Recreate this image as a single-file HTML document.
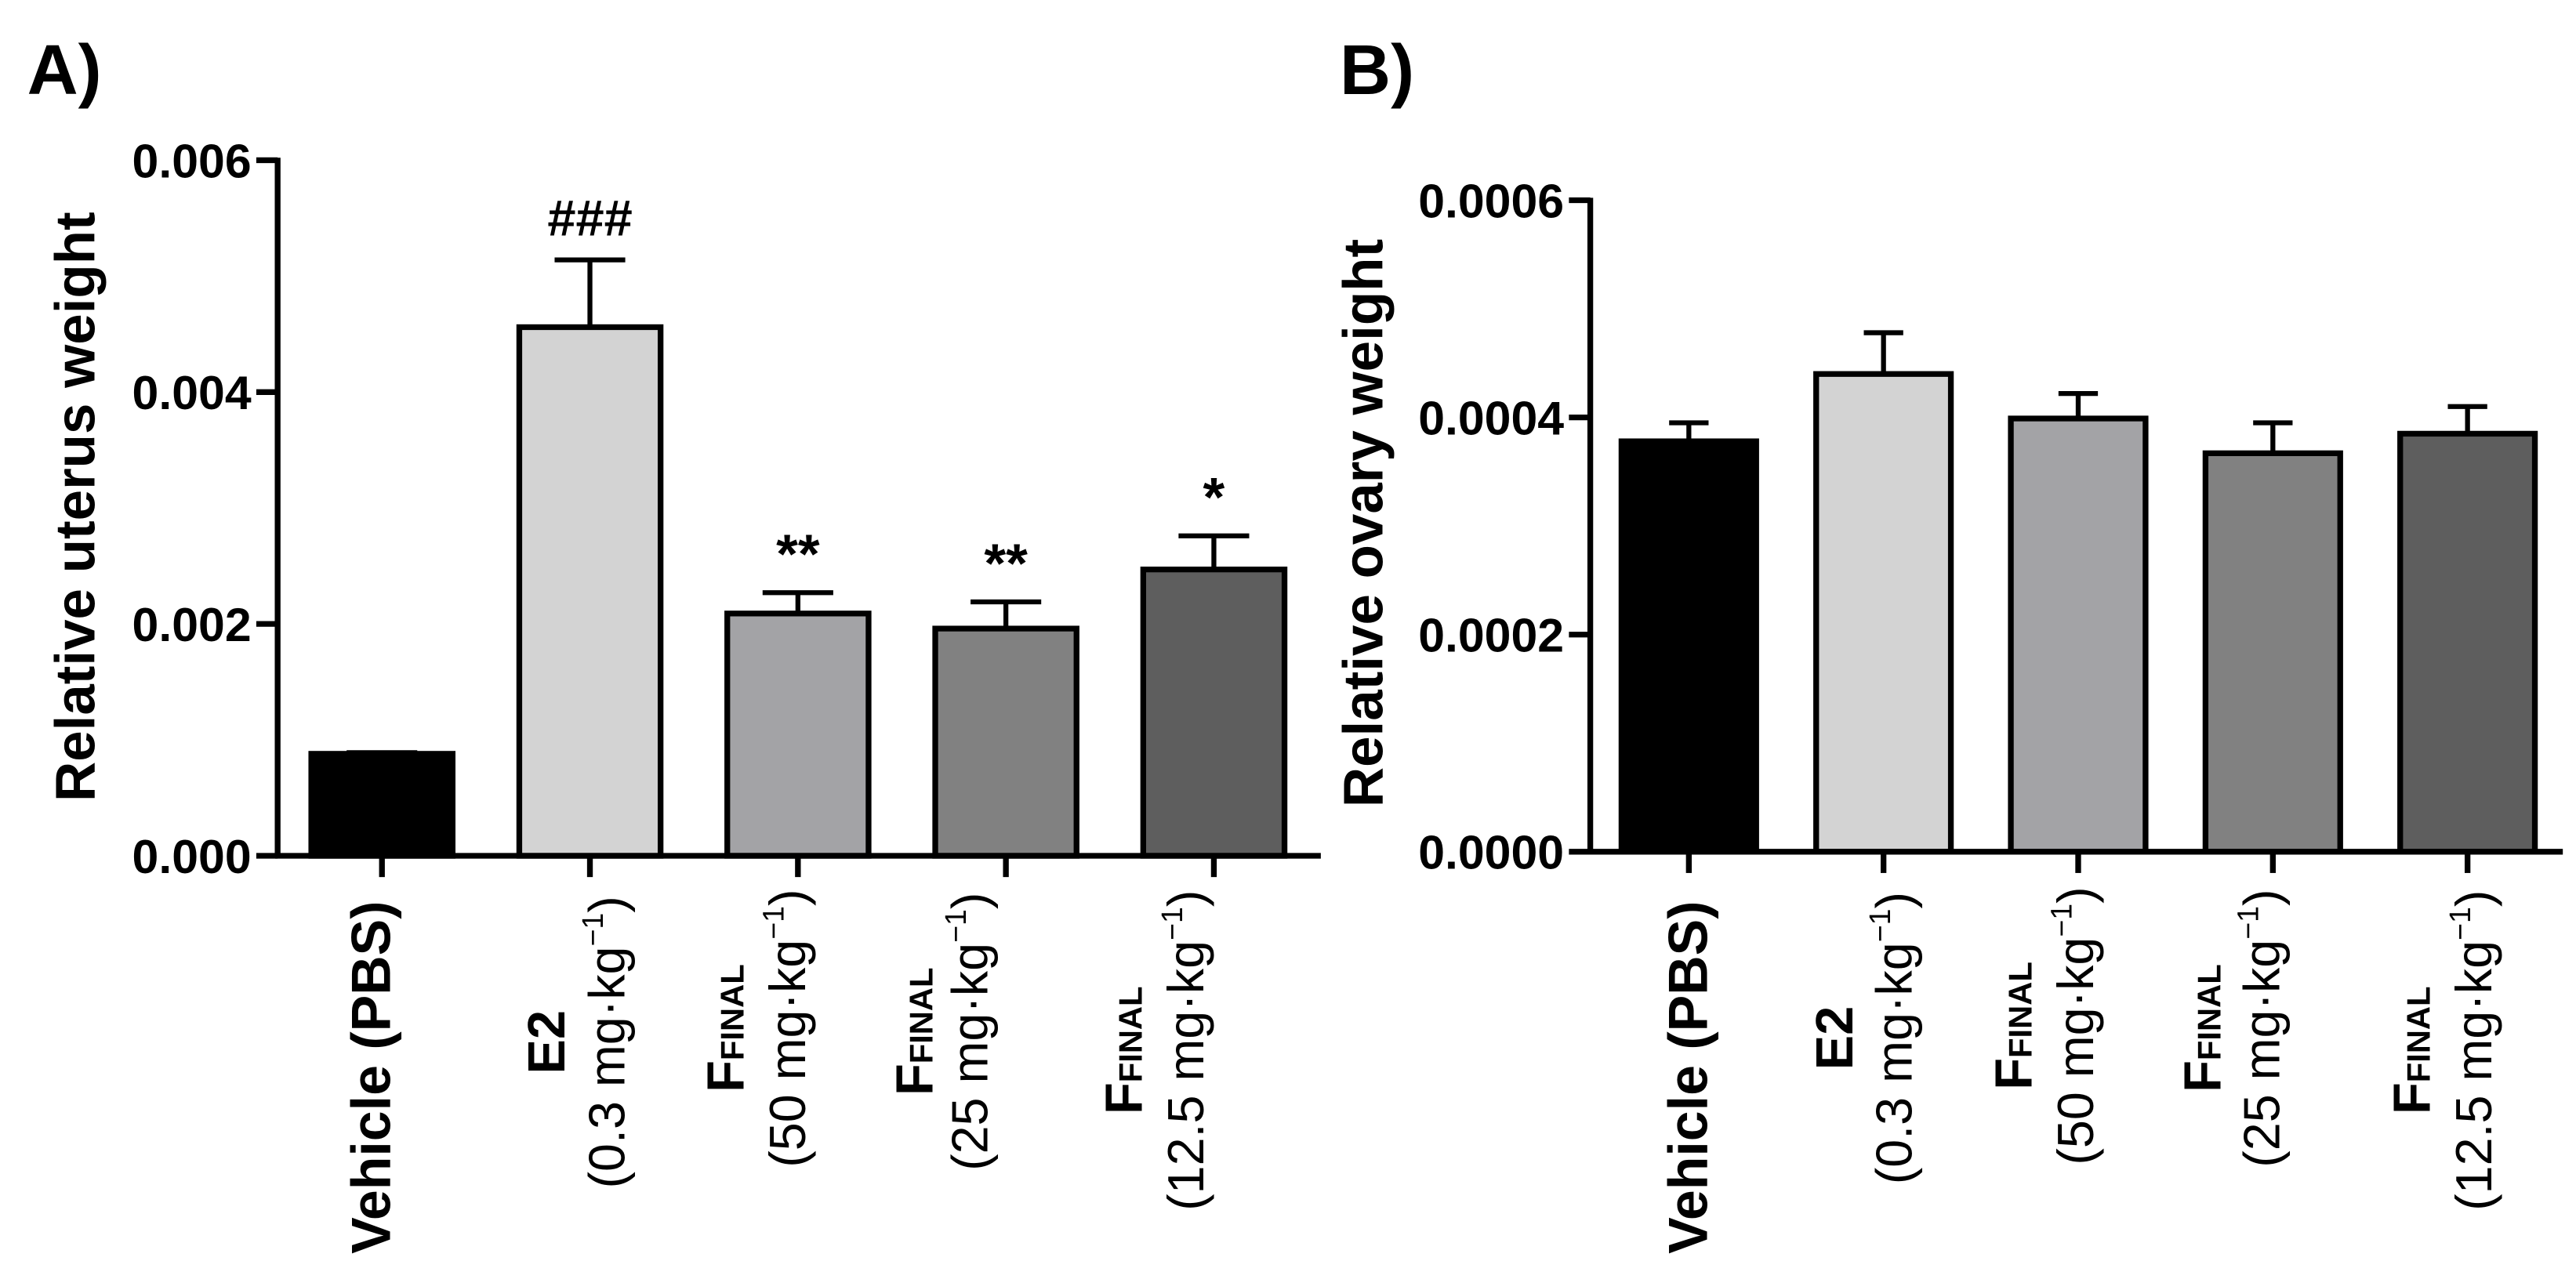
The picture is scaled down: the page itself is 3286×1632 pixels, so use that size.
<!DOCTYPE html>
<html><head><meta charset="utf-8"><style>
html,body{margin:0;padding:0;background:#fff}
svg{display:block}
text{font-family:"Liberation Sans",Arial,sans-serif;fill:#000}
</style></head><body>
<svg id="fig" width="3286" height="1632" viewBox="0 0 3286 1632" xmlns="http://www.w3.org/2000/svg">
<g id="rootA" transform="scale(1.0478,1.043)"></g>
<g id="rootB" transform="translate(1643,0) scale(1.0478,1.043)"></g>
</svg>
<script>
const categories = ["Vehicle (PBS)", "E2 (0.3 mg·kg-1)", "FFINAL (50 mg·kg-1)", "FFINAL (25 mg·kg-1)", "FFINAL (12.5 mg·kg-1)"];
const uterusMeans = [0.00088, 0.00456, 0.00209, 0.00196, 0.00247];
const uterusErrors = [0.00001, 0.00058, 0.00018, 0.00023, 0.00029];
const uterusAnnot = ["", "###", "**", "**", "*"];
const uterusTicks = [0, 0.002, 0.004, 0.006];
const uterusTickLabels = ["0.000", "0.002", "0.004", "0.006"];
const ovaryMeans = [0.000378, 0.000440, 0.000399, 0.000367, 0.000385];
const ovaryErrors = [0.000017, 0.000038, 0.000023, 0.000028, 0.000025];
const ovaryTicks = [0, 0.0002, 0.0004, 0.0006];
const ovaryTickLabels = ["0.0000", "0.0002", "0.0004", "0.0006"];
const fills = ["#000000", "#d3d3d3", "#a3a3a6", "#818181", "#5e5e5e"];

const NS = "http://www.w3.org/2000/svg";
function el(tag, attrs, parent) {
  const e = document.createElementNS(NS, tag);
  for (const k in attrs) e.setAttribute(k, attrs[k]);
  parent.appendChild(e);
  return e;
}

function panel(cfg) {
  const g = el("g", {}, document.getElementById(cfg.root));
  
  
  const yScale = v => cfg.y0 - (v / cfg.max) * (cfg.y0 - cfg.yTop);
  const xScale = i => cfg.xFirst + i * cfg.step;

  const lt = el("text", {x: cfg.letterX, y: 115, "font-size": 86, "font-weight": "bold"}, g);
  lt.textContent = cfg.letter;
  
  

  cfg.means.forEach((m, i) => {
    const cx = xScale(i);
    const top = yScale(m);
    const errTop = yScale(m + cfg.errors[i]);
    const eb = el("g", {}, g);
    
    
    el("line", {x1: cx, x2: cx, y1: top, y2: errTop, stroke: "#000", "stroke-width": 6}, eb);
    el("line", {x1: cx - cfg.cap, x2: cx + cfg.cap, y1: errTop, y2: errTop, stroke: "#000", "stroke-width": 6}, eb);
    const r = el("rect", {x: cx - cfg.barW / 2, y: top, width: cfg.barW, height: cfg.y0 - top, fill: fills[i], stroke: "#000", "stroke-width": 7}, g);
    
    
    if (cfg.annot && cfg.annot[i]) {
      const isHash = cfg.annot[i] === "###";
      const a = el("text", {x: cx, y: errTop - (isHash ? 30 : 24), "text-anchor": "middle", "font-size": isHash ? 62 : 68, "font-weight": "bold"}, g);
      a.textContent = cfg.annot[i];
      
      
    }
  });

  const ax = el("g", {}, g);
  
  
  el("line", {x1: cfg.axisX, x2: cfg.axisX, y1: cfg.yTop - 3, y2: cfg.y0 + 3, stroke: "#000", "stroke-width": 7}, ax);
  el("line", {x1: cfg.axisX - 3, x2: cfg.xEnd, y1: cfg.y0, y2: cfg.y0, stroke: "#000", "stroke-width": 7}, ax);
  cfg.ticks.forEach((t, i) => {
    const y = yScale(t);
    el("line", {x1: cfg.axisX - 26, x2: cfg.axisX, y1: y, y2: y, stroke: "#000", "stroke-width": 7}, ax);
    const tl = el("text", {x: cfg.axisX - 32, y: y + 21, "text-anchor": "end", "font-size": 58, "font-weight": "bold"}, ax);
    tl.textContent = cfg.tickLabels[i];
    
    
  });
  cfg.means.forEach((m, i) => {
    const x = xScale(i);
    el("line", {x1: x, x2: x, y1: cfg.y0, y2: cfg.y0 + 26, stroke: "#000", "stroke-width": 7}, ax);
  });

  const yt = el("text", {transform: `translate(${cfg.titleX},${cfg.titleY}) rotate(-90)`, "text-anchor": "middle", "font-size": 68, "font-weight": "bold"}, g);
  yt.textContent = cfg.title;
  
  

  categories.forEach((c, i) => {
    const lg = el("g", {}, g);
    
    
    const lay = cfg.labelLayout[i];
    const cy = lay.c;
    if (i === 0) {
      const t = el("text", {transform: `translate(${lay.x[0]},${cy}) rotate(-90)`, "text-anchor": "middle", "font-size": 67, "font-weight": "bold"}, lg);
      t.textContent = c;
      return;
    }
    const sp = c.indexOf(" ");
    const head = c.slice(0, sp);
    const dose = c.slice(sp + 1).replace("-1)", "");
    const t1 = el("text", {transform: `translate(${lay.x[0]},${cy}) rotate(-90)`, "text-anchor": "middle", "font-size": 64, "font-weight": "bold"}, lg);
    if (head === "E2") { t1.textContent = "E2"; }
    else {
      const a = el("tspan", {}, t1); a.textContent = "F";
      const b = el("tspan", {"font-size": 40}, t1); b.textContent = "FINAL";
    }
    const t2 = el("text", {transform: `translate(${lay.x[1]},${cy}) rotate(-90)`, "text-anchor": "middle", "font-size": 62}, lg);
    const s1 = el("tspan", {}, t2); s1.textContent = dose;
    const s2 = el("tspan", {"font-size": 36, dy: -26}, t2); s2.textContent = "−1";
    const s3 = el("tspan", {dy: 26}, t2); s3.textContent = ")";
  });
}

panel({
  root: "rootA", name: "panel-a-uterus", letter: "A)", letterX: 33,
  means: uterusMeans, errors: uterusErrors, annot: uterusAnnot,
  ticks: uterusTicks, tickLabels: uterusTickLabels, max: 0.006,
  y0: 1047, yTop: 196, axisX: 338, xEnd: 1608, xFirst: 465, step: 253.2, barW: 172, cap: 43,
  title: "Relative uterus weight", titleX: 115, titleY: 620,
  labelLayout: [{c: 1318, x: [475]}, {c: 1275, x: [687, 760]}, {c: 1258, x: [905, 980]}, {c: 1262, x: [1135, 1202]}, {c: 1285, x: [1390, 1465]}]
});
panel({
  root: "rootB", name: "panel-b-ovary", letter: "B)", letterX: 63,
  means: ovaryMeans, errors: ovaryErrors, annot: null,
  ticks: ovaryTicks, tickLabels: ovaryTickLabels, max: 0.0006,
  y0: 1042, yTop: 245, axisX: 368, xEnd: 1552, xFirst: 488, step: 237, barW: 164, cap: 24,
  title: "Relative ovary weight", titleX: 115, titleY: 640,
  labelLayout: [{c: 1318, x: [510]}, {c: 1270, x: [687, 759]}, {c: 1255, x: [905, 980]}, {c: 1258, x: [1135, 1207]}, {c: 1285, x: [1390, 1465]}]
});
</script>
</body></html>
